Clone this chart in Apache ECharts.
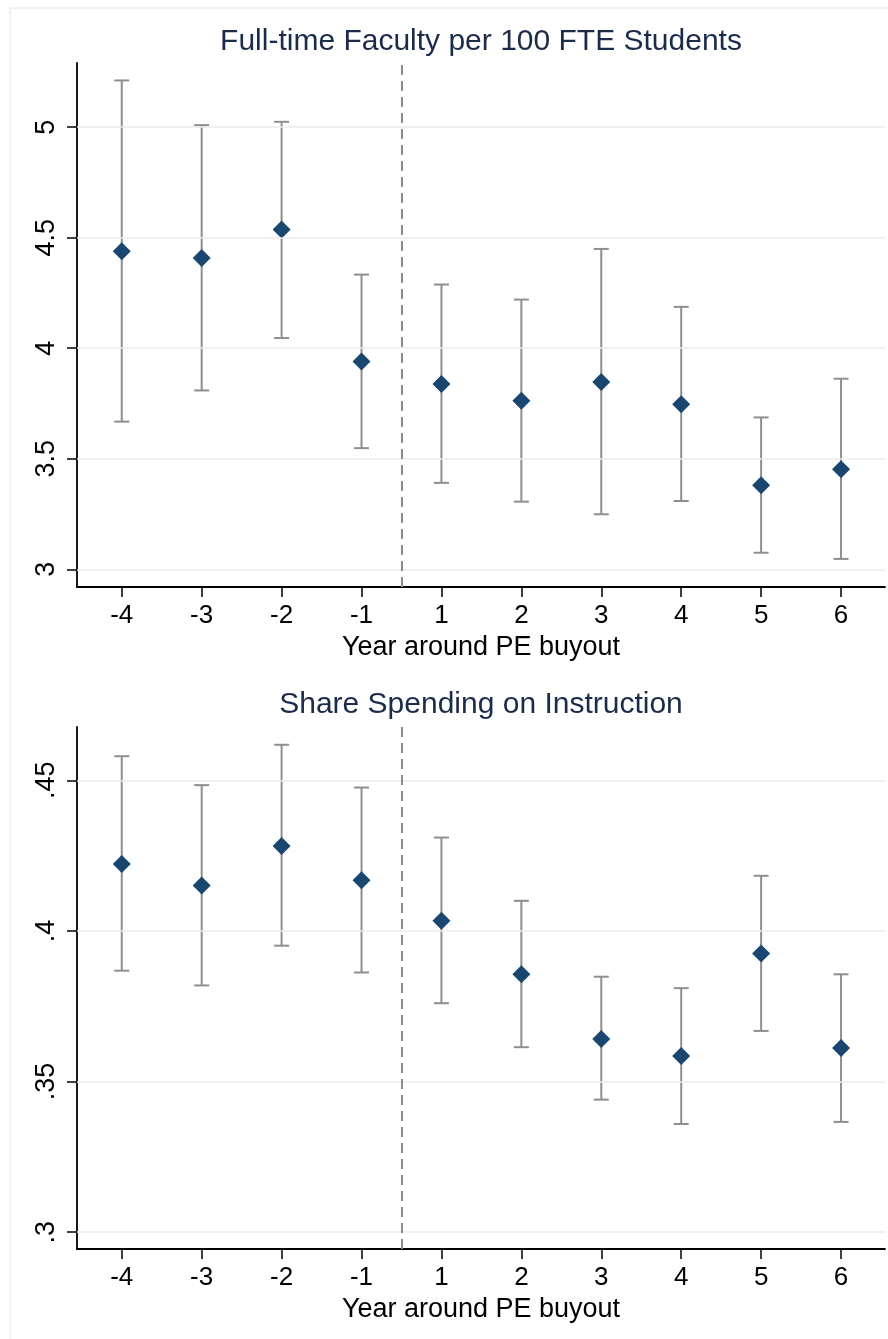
<!DOCTYPE html>
<html><head><meta charset="utf-8">
<script src="https://cdn.jsdelivr.net/npm/echarts@6/dist/echarts.min.js"></script>
<style>html,body{margin:0;padding:0;background:#fff}#c{width:888px;height:1339px}</style>
</head><body><div id="c"></div><script>
const years = ['-4','-3','-2','-1','1','2','3','4','5','6'];
const faculty   = [4.438,4.408,4.537,3.940,3.838,3.762,3.847,3.747,3.380,3.453];
const facultyLo = [3.668,3.809,4.046,3.548,3.391,3.306,3.249,3.309,3.075,3.047];
const facultyHi = [5.211,5.009,5.024,4.333,4.288,4.220,4.449,4.187,3.687,3.862];
const share   = [.4222,.4151,.4282,.4168,.4034,.3856,.3641,.3585,.3925,.3611];
const shareLo = [.3868,.3819,.3951,.3862,.3760,.3614,.3440,.3359,.3668,.3366];
const shareHi = [.4580,.4484,.4618,.4476,.4310,.4100,.3848,.3810,.4183,.3856];
const facultyTicks = [3,3.5,4,4.5,5];
const shareTicks = [.3,.35,.4,.45];
const titles = ['Full-time Faculty per 100 FTE Students','Share Spending on Instruction'];
const xTitle = 'Year around PE buyout';
const buyoutPos = 3.5; // between year -1 and year 1

const FONT = '"Liberation Sans", Arial, Helvetica, sans-serif';
const idx = years.map((_, i) => i);

function errRender(params, api) {
  const x = api.value(0), lo = api.value(1), hi = api.value(2);
  const pLo = api.coord([x, lo]), pHi = api.coord([x, hi]);
  const w = 7.5;
  const style = { stroke: '#8e8e8e', lineWidth: 2, fill: null };
  return { type: 'group', children: [
    { type: 'line', shape: { x1: pLo[0], y1: pLo[1], x2: pHi[0], y2: pHi[1] }, style },
    { type: 'line', shape: { x1: pLo[0] - w, y1: pLo[1], x2: pLo[0] + w, y2: pLo[1] }, style },
    { type: 'line', shape: { x1: pHi[0] - w, y1: pHi[1], x2: pHi[0] + w, y2: pHi[1] }, style }
  ]};
}

function xAxisFor(gi) {
  return {
    type: 'value', gridIndex: gi, min: -0.56, max: 9.55,
    axisLine: { show: true, onZero: false, lineStyle: { color: '#000', width: 1.8 } },
    axisTick: { show: true, length: 10, lineStyle: { color: '#000', width: 1.5 }, customValues: idx },
    axisLabel: { customValues: idx, formatter: v => years[Math.round(v)], color: '#000',
      fontFamily: FONT, fontSize: 26, margin: 16 },
    splitLine: { show: false },
    name: xTitle, nameLocation: 'middle', nameGap: 47,
    nameTextStyle: { color: '#000', fontFamily: FONT, fontSize: 27 }
  };
}
function yAxisFor(gi, min, max, ticks, fmt) {
  return {
    type: 'value', gridIndex: gi, min, max,
    axisLine: { show: true, onZero: false, lineStyle: { color: '#000', width: 1.8 } },
    axisTick: { show: true, length: 10, lineStyle: { color: '#000', width: 1.5 }, customValues: ticks },
    axisLabel: { customValues: ticks, formatter: fmt, rotate: 90, color: '#000',
      fontFamily: FONT, fontSize: 27, margin: 17 },
    splitLine: { show: false }
  };
}
const fmtShare = v => String(+v.toFixed(2)).replace(/^0\./, '.');
const fmtFac = v => String(+v.toFixed(1));

function gridLines(ticks) {
  return ticks.map(t => ({ yAxis: t, lineStyle: { color: '#ebebeb', width: 1.5, type: 'solid' } }))
    .concat([{ xAxis: buyoutPos, lineStyle: { color: '#8c8c8c', width: 2, type: [10, 6] } }]);
}

function panelSeries(gi, est, lo, hi, ticks) {
  return [
    {
      type: 'custom', xAxisIndex: gi, yAxisIndex: gi, z: 2,
      renderItem: errRender, encode: { x: 0, y: [1, 2] },
      data: idx.map(i => [i, lo[i], hi[i]]), silent: true,
      markLine: { silent: true, symbol: 'none', label: { show: false }, animation: false,
        data: gridLines(ticks) }
    },
    {
      type: 'scatter', xAxisIndex: gi, yAxisIndex: gi, z: 3,
      symbol: 'diamond', symbolSize: [18, 18],
      itemStyle: { color: '#1a476f', opacity: 1 },
      data: idx.map(i => [i, est[i]])
    }
  ];
}

const chart = echarts.init(document.getElementById('c'), null, { renderer: 'canvas' });
chart.setOption({
  animation: false,
  backgroundColor: '#fff',
  title: [
    { text: titles[0], left: 481, top: 27, textAlign: 'center', padding: 0,
      textStyle: { color: '#1c2b4a', fontFamily: FONT, fontSize: 30, fontWeight: 'normal', lineHeight: 30 } },
    { text: titles[1], left: 481, top: 690, textAlign: 'center', padding: 0,
      textStyle: { color: '#1c2b4a', fontFamily: FONT, fontSize: 30, fontWeight: 'normal', lineHeight: 30 } }
  ],
  graphic: [{ type: 'rect', silent: true, z: -10,
    shape: { x: 10, y: 8, width: 890, height: 1340 },
    style: { fill: null, stroke: '#e6e6e6', lineWidth: 1 } }],
  grid: [
    { left: 77, right: 3, top: 63, height: 524 },
    { left: 77, right: 3, top: 727, height: 522 }
  ],
  xAxis: [xAxisFor(0), xAxisFor(1)],
  yAxis: [
    yAxisFor(0, 2.92, 5.29, facultyTicks, fmtFac),
    yAxisFor(1, 0.2944, 0.4677, shareTicks, fmtShare)
  ],
  series: panelSeries(0, faculty, facultyLo, facultyHi, facultyTicks)
    .concat(panelSeries(1, share, shareLo, shareHi, shareTicks))
});
</script></body></html>
